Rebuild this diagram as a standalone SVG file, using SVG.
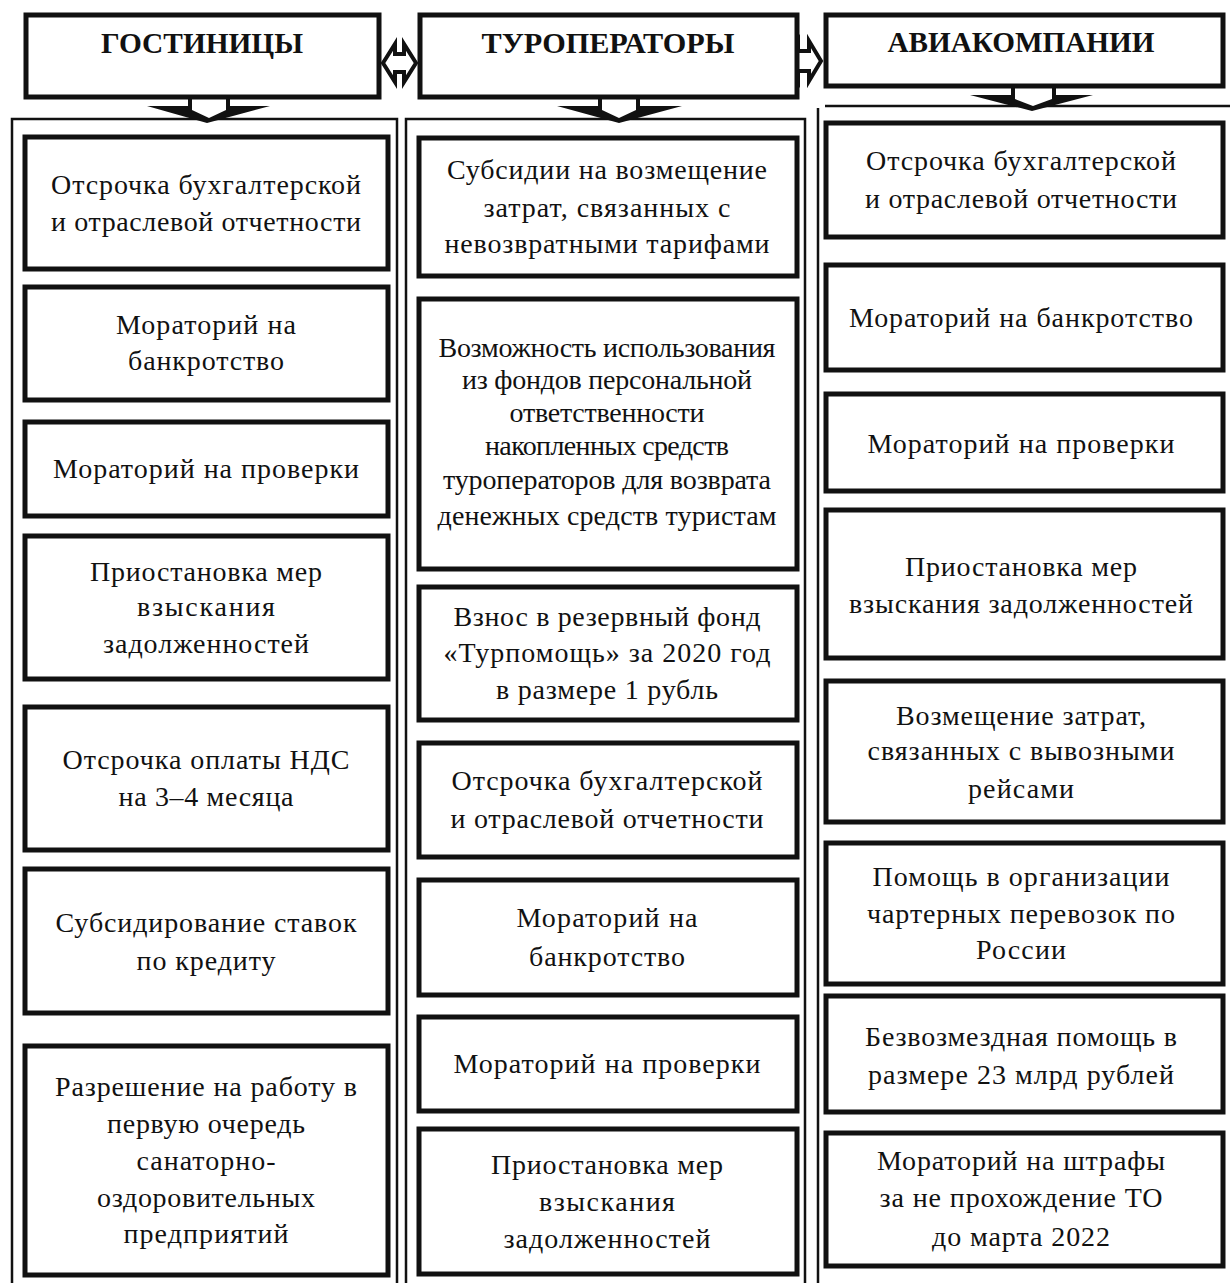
<svg xmlns="http://www.w3.org/2000/svg" width="1230" height="1283" viewBox="0 0 1230 1283">
<style>
.hdr{fill:#fff;stroke:#111;stroke-width:5}
.box{fill:#fff;stroke:#111;stroke-width:5}
.cont{fill:none;stroke:#111;stroke-width:2.5}
.h{font-family:"Liberation Serif",serif;font-size:30px;font-weight:bold;fill:#111;text-anchor:middle}
.t{font-family:"Liberation Serif",serif;font-size:28px;fill:#111;text-anchor:middle}
.blk{fill:#111}
.wht{fill:#fff}
.dbl{fill:#fff;stroke:#111;stroke-width:4;stroke-linejoin:miter}
</style>
<rect width="1230" height="1283" fill="#fff"/>
<g id="containers">
<path class="cont" d="M12,1290 V119 H397 V1290"/>
<path class="cont" d="M406,1290 V119 H805 V1290"/>
<path class="cont" d="M818,1290 V108"/>
<path class="cont" d="M825,106 H1235"/>
</g>
<g id="connectors">
<path class="blk" d="M188,95 H230 V106 H270 L207,123 L147,106 H188 Z"/>
<path class="wht" d="M192,95 H226 V110 L209,118 L192,110 Z"/>
<path class="blk" d="M598,95 H640 V106 H682 L619,123 L557,106 H598 Z"/>
<path class="wht" d="M602,95 H636 V110 L619,118 L602,110 Z"/>
<path class="blk" d="M1011,84 H1056 V95 H1093 L1032,111 L970,95 H1011 Z"/>
<path class="wht" d="M1015,84 H1052 V99 L1033,106 L1015,99 Z"/>
<path class="dbl" d="M383,63 L395,44 V54 H404 V44 L416,63 L404,82 V72 H395 V82 Z"/>
<path class="dbl" d="M786,61 L798,41 V51 H809 V41 L821,61 L809,81 V71 H798 V81 Z"/>
</g>
<g id="hotels">
<rect class="hdr" x="26" y="15" width="353" height="82"/>
<text class="h" x="202" y="53" textLength="202" lengthAdjust="spacingAndGlyphs">ГОСТИНИЦЫ</text>
</g>
<g id="touroperators">
<rect class="hdr" x="420" y="15" width="377" height="82"/>
<text class="h" x="608" y="53" textLength="253" lengthAdjust="spacingAndGlyphs">ТУРОПЕРАТОРЫ</text>
</g>
<g id="airlines">
<rect class="hdr" x="826" y="15" width="397" height="71"/>
<text class="h" x="1021" y="52" textLength="267" lengthAdjust="spacingAndGlyphs">АВИАКОМПАНИИ</text>
</g>

<g id="h1"><rect class="box" x="25" y="137" width="363" height="132"/>
<text class="t" x="206" y="194" textLength="310">Отсрочка бухгалтерской</text>
<text class="t" x="206" y="231" textLength="310">и отраслевой отчетности</text></g>
<g id="h2"><rect class="box" x="25" y="287" width="363" height="113"/>
<text class="t" x="206" y="334" textLength="180">Мораторий на</text>
<text class="t" x="206" y="370" textLength="156">банкротство</text></g>
<g id="h3"><rect class="box" x="25" y="422" width="363" height="94"/>
<text class="t" x="206" y="478" textLength="306">Мораторий на проверки</text></g>
<g id="h4"><rect class="box" x="25" y="536" width="363" height="143"/>
<text class="t" x="206" y="581" textLength="232">Приостановка мер</text>
<text class="t" x="206" y="616" textLength="138">взыскания</text>
<text class="t" x="206" y="653" textLength="206">задолженностей</text></g>
<g id="h5"><rect class="box" x="25" y="707" width="363" height="143"/>
<text class="t" x="206" y="769" textLength="287">Отсрочка оплаты НДС</text>
<text class="t" x="206" y="806" textLength="175">на 3–4 месяца</text></g>
<g id="h6"><rect class="box" x="25" y="869" width="363" height="144"/>
<text class="t" x="206" y="932" textLength="301">Субсидирование ставок</text>
<text class="t" x="206" y="970" textLength="139">по кредиту</text></g>
<g id="h7"><rect class="box" x="25" y="1046" width="363" height="229"/>
<text class="t" x="206" y="1096" textLength="302">Разрешение на работу в</text>
<text class="t" x="206" y="1133" textLength="198">первую очередь</text>
<text class="t" x="206" y="1170" textLength="139">санаторно-</text>
<text class="t" x="206" y="1207" textLength="218">оздоровительных</text>
<text class="t" x="206" y="1243" textLength="165">предприятий</text></g>

<g id="t1"><rect class="box" x="419" y="138" width="378" height="138"/>
<text class="t" x="607" y="179" textLength="320">Субсидии на возмещение</text>
<text class="t" x="607" y="217" textLength="247">затрат, связанных с</text>
<text class="t" x="607" y="253" textLength="325">невозвратными тарифами</text></g>
<g id="t2"><rect class="box" x="419" y="299" width="378" height="270"/>
<text class="t" x="607" y="357" textLength="337">Возможность использования</text>
<text class="t" x="607" y="389" textLength="290">из фондов персональной</text>
<text class="t" x="607" y="422" textLength="195">ответственности</text>
<text class="t" x="607" y="455" textLength="244">накопленных средств</text>
<text class="t" x="607" y="489" textLength="328">туроператоров для возврата</text>
<text class="t" x="607" y="525" textLength="339">денежных средств туристам</text></g>
<g id="t3"><rect class="box" x="419" y="587" width="378" height="133"/>
<text class="t" x="607" y="626" textLength="307">Взнос в резервный фонд</text>
<text class="t" x="607" y="662" textLength="327">«Турпомощь» за 2020 год</text>
<text class="t" x="607" y="699" textLength="222">в размере 1 рубль</text></g>
<g id="t4"><rect class="box" x="419" y="743" width="378" height="114"/>
<text class="t" x="607" y="790" textLength="311">Отсрочка бухгалтерской</text>
<text class="t" x="607" y="828" textLength="313">и отраслевой отчетности</text></g>
<g id="t5"><rect class="box" x="419" y="880" width="378" height="115"/>
<text class="t" x="607" y="927" textLength="181">Мораторий на</text>
<text class="t" x="607" y="966" textLength="156">банкротство</text></g>
<g id="t6"><rect class="box" x="419" y="1017" width="378" height="94"/>
<text class="t" x="607" y="1073" textLength="307">Мораторий на проверки</text></g>
<g id="t7"><rect class="box" x="419" y="1129" width="378" height="145"/>
<text class="t" x="607" y="1174" textLength="232">Приостановка мер</text>
<text class="t" x="607" y="1211" textLength="136">взыскания</text>
<text class="t" x="607" y="1248" textLength="207">задолженностей</text></g>

<g id="a1"><rect class="box" x="826" y="123" width="397" height="114"/>
<text class="t" x="1021" y="170" textLength="310">Отсрочка бухгалтерской</text>
<text class="t" x="1021" y="208" textLength="312">и отраслевой отчетности</text></g>
<g id="a2"><rect class="box" x="826" y="265" width="397" height="105"/>
<text class="t" x="1021" y="327" textLength="344">Мораторий на банкротство</text></g>
<g id="a3"><rect class="box" x="826" y="394" width="397" height="97"/>
<text class="t" x="1021" y="453" textLength="307">Мораторий на проверки</text></g>
<g id="a4"><rect class="box" x="826" y="510" width="397" height="148"/>
<text class="t" x="1021" y="576" textLength="232">Приостановка мер</text>
<text class="t" x="1021" y="613" textLength="344">взыскания задолженностей</text></g>
<g id="a5"><rect class="box" x="826" y="681" width="397" height="141"/>
<text class="t" x="1021" y="725" textLength="250">Возмещение затрат,</text>
<text class="t" x="1021" y="760" textLength="307">связанных с вывозными</text>
<text class="t" x="1021" y="798" textLength="106">рейсами</text></g>
<g id="a6"><rect class="box" x="826" y="843" width="397" height="141"/>
<text class="t" x="1021" y="886" textLength="297">Помощь в организации</text>
<text class="t" x="1021" y="923" textLength="308">чартерных перевозок по</text>
<text class="t" x="1021" y="959" textLength="90">России</text></g>
<g id="a7"><rect class="box" x="826" y="996" width="397" height="116"/>
<text class="t" x="1021" y="1046" textLength="312">Безвозмездная помощь в</text>
<text class="t" x="1021" y="1084" textLength="306">размере 23 млрд рублей</text></g>
<g id="a8"><rect class="box" x="826" y="1133" width="397" height="133"/>
<text class="t" x="1021" y="1170" textLength="288">Мораторий на штрафы</text>
<text class="t" x="1021" y="1207" textLength="283">за не прохождение ТО</text>
<text class="t" x="1021" y="1246" textLength="178">до марта 2022</text></g>
</svg>
